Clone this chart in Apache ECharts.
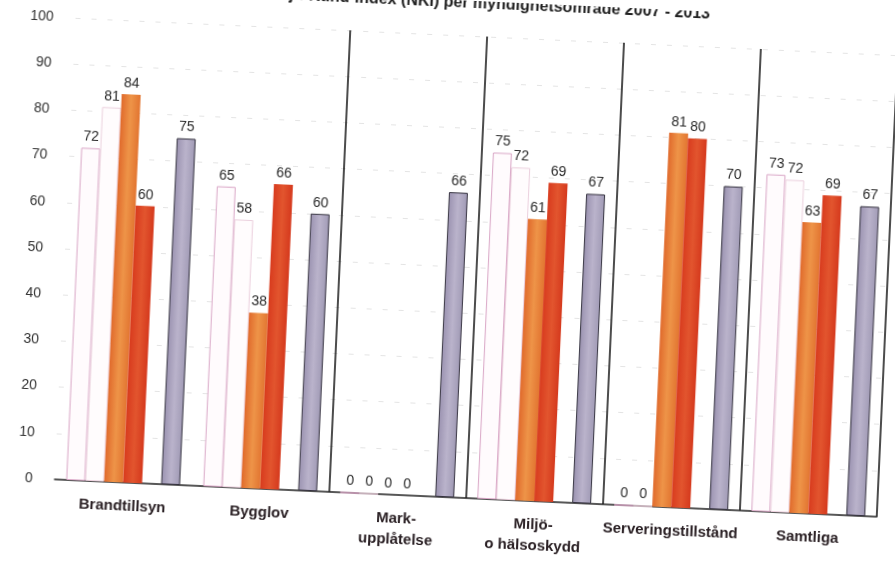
<!DOCTYPE html>
<html>
<head>
<meta charset="utf-8">
<script src="https://cdn.jsdelivr.net/npm/echarts@6/dist/echarts.min.js"></script>
<style>
  html, body { margin: 0; padding: 0; background: #fff; overflow: hidden; }
  /* the source is a slightly skewed scan, so the whole chart is tilted a little */
  #chart { width: 895px; height: 562px; transform: rotate(2.6deg); transform-origin: 50% 50%; }
</style>
</head>
<body>
<div id="chart"></div>
<script>
// kategorier (myndighetsområden)
const categories = ['Brandtillsyn', 'Bygglov', 'Mark-\nupplåtelse', 'Miljö-\no hälsoskydd', 'Serveringstillstånd', 'Samtliga']
// NKI per år
const nki2007 = [72, 65, 0, 75, 0, 73]
const nki2009 = [81, 58, 0, 72, 0, 72]
const nki2011 = [84, 38, 0, 61, 81, 63]
const nki2013 = [60, 66, 0, 69, 80, 69]
// jämförelsevärde (grå stapel)
const nkiJamforelse = [75, 60, 66, 67, 70, 67]
const yTicks = { min: 0, max: 100, interval: 10 }

const chart = echarts.init(document.getElementById('chart'))

const labelStyle = {
  show: true,
  position: 'top',
  distance: 4,
  color: '#2a2a2a',
  fontSize: 14,
  fontFamily: 'Liberation Sans, Arial, sans-serif'
}

const bar = (name, data, itemStyle) => ({
  name,
  type: 'bar',
  data,
  barWidth: 19,
  barGap: '0%',
  itemStyle,
  label: labelStyle
})

const option = {
  animation: false,
  title: {
    text: 'Nöjd-Kund-Index (NKI) per myndighetsområde 2007 - 2013',
    left: 250,
    top: -10,
    textStyle: { fontSize: 16, fontWeight: 'bold', color: '#222', fontFamily: 'Liberation Sans, Arial, sans-serif' }
  },
  grid: {
    left: 64,
    right: 8,
    top: 35,
    bottom: 65,
    outerBoundsMode: 'none'
  },
  xAxis: {
    type: 'category',
    data: categories,
    axisLine: { lineStyle: { color: '#222', width: 1.5 } },
    axisTick: { show: false },
    axisLabel: {
      margin: 13,
      color: '#2a2024',
      fontSize: 15,
      fontWeight: 'bold',
      lineHeight: 21,
      fontFamily: 'Liberation Sans, Arial, sans-serif',
      interval: 0
    },
    splitLine: {
      show: true,
      interval: (i) => i >= 2,
      lineStyle: { color: '#111', width: 1.5 }
    }
  },
  yAxis: {
    type: 'value',
    min: yTicks.min,
    max: yTicks.max,
    interval: yTicks.interval,
    axisLine: { show: false },
    axisTick: { show: false },
    axisLabel: {
      margin: 22,
      color: '#333',
      fontSize: 14,
      fontFamily: 'Liberation Sans, Arial, sans-serif'
    },
    splitLine: {
      show: true,
      lineStyle: { color: '#e4e4e4', type: [5, 11], width: 1 }
    }
  },
  series: [
    bar('2007', nki2007, { color: '#fffbfd', borderColor: '#d9a6c6', borderWidth: 1 }),
    bar('2009', nki2009, { color: '#fffcfd', borderColor: '#ebd0dd', borderWidth: 1 }),
    bar('2011', nki2011, {
      color: {
        type: 'linear', x: 0, y: 0, x2: 1, y2: 0,
        colorStops: [
          { offset: 0, color: '#e06a2c' },
          { offset: 0.5, color: '#ee9448' },
          { offset: 1, color: '#e27531' }
        ]
      }
    }),
    bar('2013', nki2013, {
      color: {
        type: 'linear', x: 0, y: 0, x2: 1, y2: 0,
        colorStops: [
          { offset: 0, color: '#d83b1e' },
          { offset: 0.5, color: '#e2552e' },
          { offset: 1, color: '#d5391d' }
        ]
      }
    }),
    // tom plats mellan årsstaplarna och jämförelsestapeln
    { name: '', type: 'bar', data: [], barWidth: 19, barGap: '0%' },
    bar('Jämförelse', nkiJamforelse, {
      color: {
        type: 'linear', x: 0, y: 0, x2: 1, y2: 0,
        colorStops: [
          { offset: 0, color: '#9a92b0' },
          { offset: 0.5, color: '#bab3cb' },
          { offset: 1, color: '#a09ab5' }
        ]
      },
      borderColor: '#35323f',
      borderWidth: 1
    })
  ]
}

chart.setOption(option)
</script>
</body>
</html>
